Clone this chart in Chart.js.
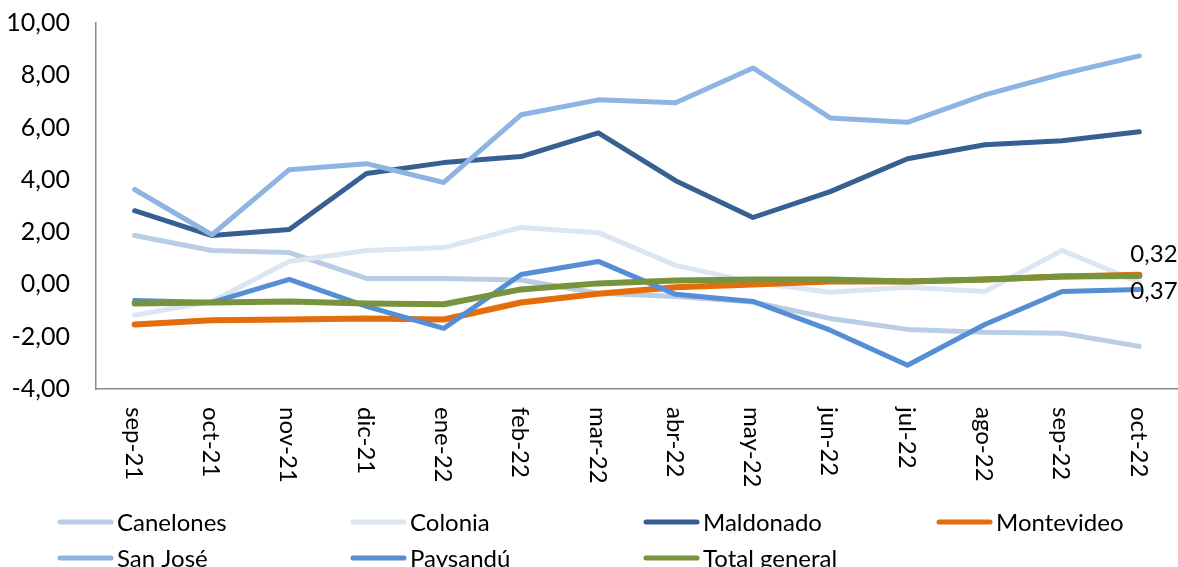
<!DOCTYPE html>
<html>
<head>
<meta charset="utf-8">
<script src="https://cdn.jsdelivr.net/npm/chart.js@4"></script>
<style>
  html, body { margin: 0; padding: 0; background: #fff; }
  #wrap { width: 1178px; height: 567px; }
</style>
</head>
<body>
<div id="wrap"><canvas id="chart" width="1178" height="567"></canvas></div>
<script>
// Data
const months = ['sep-21', 'oct-21', 'nov-21', 'dic-21', 'ene-22', 'feb-22', 'mar-22',
    'abr-22', 'may-22', 'jun-22', 'jul-22', 'ago-22', 'sep-22', 'oct-22'];

const canelones   = [1.87, 1.30, 1.22, 0.23, 0.23, 0.17, -0.34, -0.46, -0.67, -1.30, -1.72, -1.83, -1.87, -2.37];
const colonia     = [-1.18, -0.65, 0.88, 1.30, 1.41, 2.18, 1.98, 0.73, 0.08, -0.30, -0.11, -0.27, 1.30, 0.08];
const maldonado   = [2.82, 1.87, 2.10, 4.24, 4.66, 4.89, 5.80, 3.97, 2.56, 3.55, 4.81, 5.34, 5.50, 5.84];
const montevideo  = [-1.53, -1.37, -1.34, -1.30, -1.34, -0.69, -0.36, -0.11, 0.00, 0.11, 0.11, 0.19, 0.30, 0.37];
const sanJose     = [3.63, 1.90, 4.39, 4.62, 3.90, 6.49, 7.06, 6.95, 8.28, 6.37, 6.20, 7.25, 8.05, 8.74];
const paysandu    = [-0.61, -0.69, 0.19, -0.84, -1.68, 0.38, 0.88, -0.38, -0.65, -1.75, -3.09, -1.53, -0.27, -0.19];
const totalGeneral = [-0.73, -0.69, -0.65, -0.73, -0.76, -0.19, 0.04, 0.15, 0.19, 0.19, 0.11, 0.19, 0.30, 0.32];

const yTicks = [-4, -2, 0, 2, 4, 6, 8, 10];

const FONT = 'Lato, "Open Sans", sans-serif';
const fmt = v => v.toFixed(2).replace('.', ',');

function series(label, data, color, width, endLabel) {
    return {
        label: label,
        data: data,
        borderColor: color,
        backgroundColor: color,
        borderWidth: width,
        pointRadius: 0,
        pointHoverRadius: 0,
        tension: 0,
        borderCapStyle: 'round',
        borderJoinStyle: 'round',
        endLabel: endLabel
    };
}

const datasets = [
    series('Canelones', canelones, '#B9CDE5', 5),
    series('Colonia', colonia, '#DCE6F2', 5),
    series('Maldonado', maldonado, '#376092', 5),
    series('Montevideo', montevideo, '#E46C0A', 6, 'below'),
    series('San José', sanJose, '#8EB4E3', 5),
    series('Paysandú', paysandu, '#558ED5', 5),
    series('Total general', totalGeneral, '#77933C', 6, 'above')
];
// later series drawn on top, like the original
datasets.forEach((d, i) => { d.order = datasets.length - i; });

// rotated month labels, end labels and the legend grid
const extras = {
    id: 'extras',
    afterDraw(chart) {
        const ctx = chart.ctx;
        const xScale = chart.scales.x;
        ctx.save();
        ctx.fillStyle = '#000';
        ctx.font = '24px ' + FONT;

        // month labels, reading downward
        months.forEach((m, i) => {
            const x = xScale.getPixelForTick(i);
            ctx.save();
            ctx.translate(x - 1, 407);
            ctx.rotate(Math.PI / 2);
            ctx.textAlign = 'left';
            ctx.textBaseline = 'middle';
            ctx.fillText(m, 0, 0);
            ctx.restore();
        });

        // value labels at the last point
        chart.data.datasets.forEach((ds, i) => {
            if (!ds.endLabel) return;
            const meta = chart.getDatasetMeta(i);
            const pt = meta.data[meta.data.length - 1];
            const v = ds.data[ds.data.length - 1];
            ctx.textAlign = 'left';
            ctx.textBaseline = 'middle';
            const dy = ds.endLabel === 'above' ? -22 : 17;
            ctx.fillText(fmt(v), pt.x - 9, pt.y + dy);
        });

        // legend, 4 columns
        chart.data.datasets.forEach((ds, i) => {
            const col = i % 4;
            const row = Math.floor(i / 4);
            const x0 = 58 + col * 293;
            const y0 = 522 + row * 36;
            ctx.strokeStyle = ds.borderColor;
            ctx.lineWidth = 5;
            ctx.lineCap = 'round';
            ctx.beginPath();
            ctx.moveTo(x0 + 2, y0);
            ctx.lineTo(x0 + 53, y0);
            ctx.stroke();
            ctx.textAlign = 'left';
            ctx.textBaseline = 'middle';
            ctx.fillText(ds.label, x0 + 59, y0 + 1);
        });
        ctx.restore();
    }
};

new Chart(document.getElementById('chart').getContext('2d'), {
    type: 'line',
    data: {
        labels: months,
        datasets: datasets
    },
    options: {
        responsive: false,
        animation: false,
        layout: {
            padding: { top: 23, right: 0, bottom: 0, left: 0 }
        },
        scales: {
            x: {
                offset: true,
                grid: { display: false, drawTicks: false },
                border: { display: true, color: '#8a8a8a', width: 1.5 },
                ticks: { display: false },
                afterFit: s => { s.height = 178; s.paddingLeft = 0; s.paddingRight = 0; }
            },
            y: {
                min: -4,
                max: 10,
                afterBuildTicks: s => { s.ticks = yTicks.map(v => ({ value: v })); },
                grid: { display: false, drawTicks: false },
                border: { display: true, color: '#8a8a8a', width: 1.5 },
                ticks: {
                    padding: 26,
                    color: '#000',
                    font: { family: FONT, size: 25 },
                    callback: v => fmt(v)
                },
                afterFit: s => { s.width = 96; s.paddingTop = 0; s.paddingBottom = 0; }
            }
        },
        plugins: {
            legend: { display: false },
            tooltip: { enabled: false }
        }
    },
    plugins: [extras]
});
</script>
</body>
</html>
